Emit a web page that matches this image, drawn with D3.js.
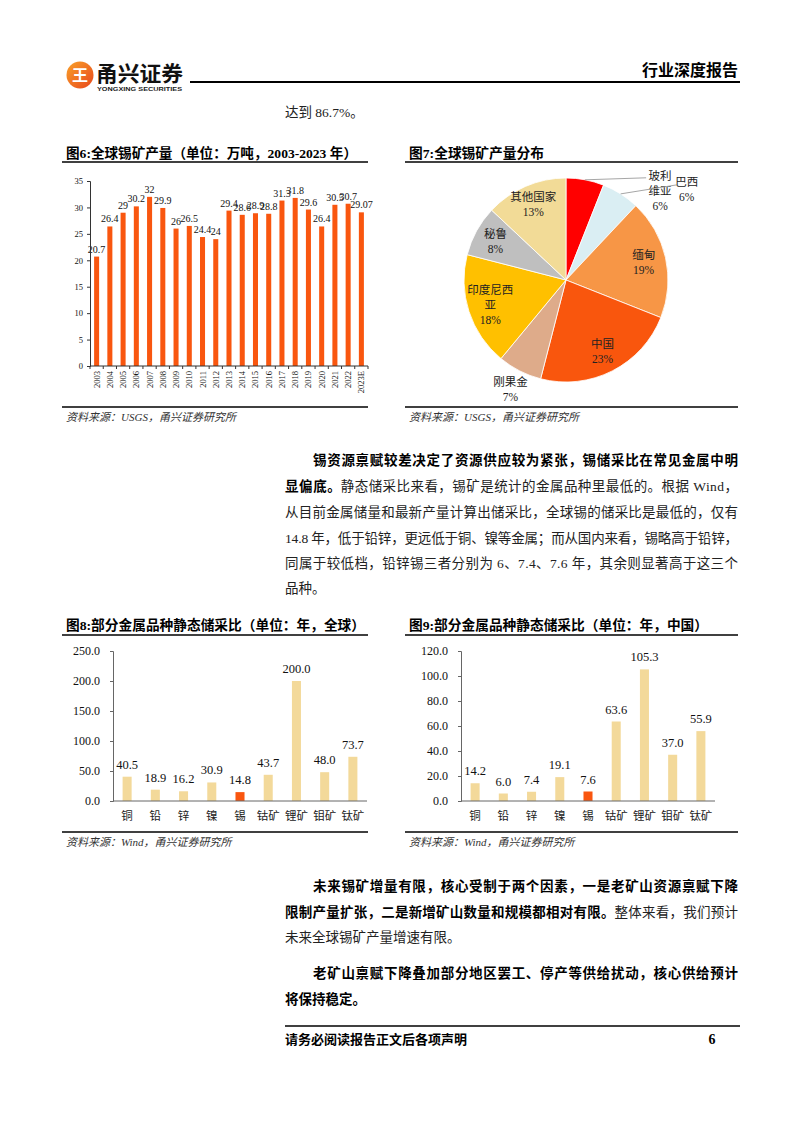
<!DOCTYPE html>
<html><head><meta charset="utf-8">
<script src="https://cdn.jsdelivr.net/npm/d3@7/dist/d3.min.js"></script>
<style>body{margin:0;background:#fff}svg{display:block}</style>
</head><body>
<svg id="page" width="794" height="1123"></svg>
<script>
// ---------------- DATA ----------------
const years = ["2003","2004","2005","2006","2007","2008","2009","2010","2011","2012","2013","2014","2015","2016","2017","2018","2019","2020","2021","2022","2023E"];
const production = [20.7,26.4,29,30.2,32,29.9,26,26.5,24.4,24,29.4,28.6,28.9,28.8,31.3,31.8,29.6,26.4,30.5,30.7,29.07];
const prodTicks = [0,5,10,15,20,25,30,35];

const countries = ["玻利维亚","巴西","缅甸","中国","刚果金","印度尼西亚","秘鲁","其他国家"];
const shares = [6,6,19,23,7,18,8,13];

const metals = ["铜","铅","锌","镍","锡","钴矿","锂矿","钼矿","钛矿"];
const globalRatio = [40.5,18.9,16.2,30.9,14.8,43.7,200.0,48.0,73.7];
const chinaRatio = [14.2,6.0,7.4,19.1,7.6,63.6,105.3,37.0,55.9];
const globalTicks = [0,50,100,150,200,250];
const chinaTicks = [0,20,40,60,80,100,120];

// ---------------- STYLE ----------------
const SERIF = "'Liberation Serif','Noto Sans CJK SC',serif";
const CJK = "'Noto Sans CJK SC',sans-serif";
const BAR_ORANGE = "#F9560F";
const BAR_LIGHT = "#F3D99A";
const pieColors = ["#FF0000","#DAEEF3","#F79646","#F9560D","#DEAB8A","#FFC000","#BFBFBF","#F2DB97"];

const svg = d3.select("#page");

function txt(g, s, x, y, opt = {}) {
  const t = g.append("text").attr("x", x).attr("y", y)
    .style("font-family", opt.family || SERIF)
    .style("font-size", (opt.size || 13) + "px")
    .style("font-weight", opt.bold ? "bold" : "normal")
    .style("font-style", opt.italic ? "italic" : "normal")
    .attr("fill", opt.fill || "#111")
    .attr("text-anchor", opt.anchor || "start")
    .text(s);
  if (opt.len) t.attr("textLength", opt.len).attr("lengthAdjust", "spacingAndGlyphs");
  return t;
}

// justified paragraph line made of segments
function textLine(segs, x0, x1, y, size, justify) {
  const g = svg.append("g");
  const items = segs.map(s => {
    const t = txt(g, s.t, 0, y, {size, bold: s.b, fill: s.b ? "#000" : "#222"});
    return {el: t, w: t.node().getComputedTextLength(), n: [...s.t].length};
  });
  const W = d3.sum(items, d => d.w), N = d3.sum(items, d => d.n);
  const extra = justify ? (x1 - x0 - W) : 0;
  let x = x0;
  items.forEach(it => {
    const len = it.w + extra * it.n / N;
    it.el.attr("x", x);
    if (justify) it.el.attr("textLength", len).attr("lengthAdjust", "spacing");
    x += len;
  });
}

// ---------------- HEADER ----------------
const hdr = svg.append("g");
const grad = svg.append("defs").append("linearGradient").attr("id", "lg").attr("x1", 0).attr("y1", 0).attr("x2", 1).attr("y2", 1);
grad.append("stop").attr("offset", "0%").attr("stop-color", "#F9A12A");
grad.append("stop").attr("offset", "100%").attr("stop-color", "#E8471B");
hdr.append("circle").attr("cx", 80).attr("cy", 75).attr("r", 13.5).attr("fill", "url(#lg)");
txt(hdr, "王", 80, 81, {family: CJK, size: 16, bold: true, fill: "#fff", anchor: "middle"});
txt(hdr, "甬兴证券", 96, 81, {family: CJK, size: 21, bold: true, fill: "#111", len: 87});
txt(hdr, "YONGXING SECURITIES", 97, 91, {family: "'Liberation Sans',sans-serif", size: 6, bold: true, fill: "#222", len: 85});
hdr.append("line").attr("x1", 190).attr("x2", 740).attr("y1", 82).attr("y2", 82).attr("stroke", "#000").attr("stroke-width", 2);
txt(hdr, "行业深度报告", 738, 76, {family: CJK, size: 16, bold: true, fill: "#000", anchor: "end"});

textLine([{t: "达到 86.7%。"}], 285, 738, 117, 13.5, false);

// ---------------- TITLES / SOURCES ----------------
function block(x0, x1, title, titleLen, yTitle, yLine, source, ySrcLine) {
  txt(svg, title, x0 + 4, yTitle, {size: 13.5, bold: true, fill: "#000", len: titleLen});
  svg.append("line").attr("x1", x0).attr("x2", x1).attr("y1", yLine).attr("y2", yLine).attr("stroke", "#000").attr("stroke-width", 1.3);
  svg.append("line").attr("x1", x0).attr("x2", x1).attr("y1", ySrcLine).attr("y2", ySrcLine).attr("stroke", "#000").attr("stroke-width", 1.3);
  txt(svg, source, x0 + 4, ySrcLine + 14, {size: 11, italic: true, fill: "#333"});
}
block(62, 368, "图6:全球锡矿产量（单位：万吨，2003-2023 年）", 291, 158, 162, "资料来源：USGS，甬兴证券研究所", 407);
block(405, 738, "图7:全球锡矿产量分布", 135, 158, 162, "资料来源：USGS，甬兴证券研究所", 407);
block(62, 368, "图8:部分金属品种静态储采比（单位：年，全球）", 299, 630, 635, "资料来源：Wind，甬兴证券研究所", 832);
block(405, 738, "图9:部分金属品种静态储采比（单位：年，中国）", 299, 630, 635, "资料来源：Wind，甬兴证券研究所", 832);

// ---------------- FIG 6 ----------------
(function () {
  const g = svg.append("g");
  const x = d3.scaleBand().domain(years).range([90, 368]).paddingInner(0.62).paddingOuter(0.31);
  const y = d3.scaleLinear().domain([0, 35]).range([366, 181]);
  g.selectAll("rect").data(production).join("rect")
    .attr("x", (d, i) => x(years[i])).attr("width", x.bandwidth())
    .attr("y", d => y(d)).attr("height", d => y(0) - y(d)).attr("fill", BAR_ORANGE);
  g.selectAll(".lbl").data(production).join("text")
    .attr("x", (d, i) => x(years[i]) + x.bandwidth() / 2).attr("y", d => y(d) - 4)
    .attr("text-anchor", "middle").style("font-family", SERIF).style("font-size", "10px").attr("fill", "#111")
    .text(d => String(d));
  const ya = g.append("g").attr("transform", "translate(90,0)")
    .call(d3.axisLeft(y).tickValues(prodTicks).tickSize(3).tickPadding(4));
  ya.select(".domain").attr("stroke", "#333");
  ya.selectAll(".tick line").attr("stroke", "#333");
  ya.selectAll("text").style("font-family", SERIF).style("font-size", "8.5px").attr("fill", "#111");
  g.append("line").attr("x1", 90).attr("x2", 368).attr("y1", y(0)).attr("y2", y(0)).attr("stroke", "#333");
  d3.range(years.length + 1).forEach(i => {
    const xx = 90 + i * x.step();
    g.append("line").attr("x1", xx).attr("x2", xx).attr("y1", y(0)).attr("y2", y(0) + 3).attr("stroke", "#333");
  });
  years.forEach(yr => {
    const cx = x(yr) + x.bandwidth() / 2;
    g.append("text").attr("transform", `translate(${cx + 3},371) rotate(-90)`)
      .attr("text-anchor", "end").style("font-family", SERIF).style("font-size", "8.5px").attr("fill", "#111").text(yr);
  });
})();

// ---------------- FIG 7 ----------------
(function () {
  const cx = 566, cy = 280, R = 102;
  const g = svg.append("g").attr("transform", `translate(${cx},${cy})`);
  const arcs = d3.pie().sort(null).value(d => d)(shares);
  const arc = d3.arc().innerRadius(0).outerRadius(R);
  g.selectAll("path").data(arcs).join("path").attr("d", arc)
    .attr("fill", (d, i) => pieColors[i]).attr("stroke", "#fff").attr("stroke-width", 0.8);
  const polar = (a, r) => [Math.sin(a) * r, -Math.cos(a) * r];
  const fs = 11.5;
  const labelLines = [
    ["玻利", "维亚", "6%"], ["巴西", "6%"], ["缅甸", "19%"], ["中国", "23%"],
    ["刚果金", "7%"], ["印度尼西", "亚", "18%"], ["秘鲁", "8%"], ["其他国家", "13%"]
  ];
  const rf = [null, null, 0.78, 0.79, 1.2, 0.78, 0.79, 0.81];
  arcs.forEach((d, i) => {
    const mid = (d.startAngle + d.endAngle) / 2;
    let px, py;
    if (rf[i] !== null) {
      [px, py] = polar(mid, R * rf[i]);
    } else {
      const [ax, ay] = polar(mid, R);
      const lineEnd = i === 0 ? [ax + 61, ay - 2] : [ax + 56, ay - 9];
      g.append("line").attr("x1", ax).attr("y1", ay).attr("x2", lineEnd[0]).attr("y2", lineEnd[1])
        .attr("stroke", "#A6A6A6").attr("stroke-width", 1);
      if (i === 0) { px = ax + 75; py = ay + 11; }
      else { px = ax + 66; py = ay - 4; }
    }
    const lines = labelLines[i];
    const lh = 15;
    const y0 = py - (lines.length - 1) * lh / 2;
    lines.forEach((s, k) => {
      txt(g, s, px, y0 + k * lh + 4, {size: fs, fill: "#222", anchor: "middle"});
    });
  });
})();

// ---------------- PARAGRAPH 1 ----------------
const P = 13.5;
textLine([{t: "锡资源禀赋较差决定了资源供应较为紧张，锡储采比在常见金属中明", b: true}], 313, 738, 465, P, true);
textLine([{t: "显偏底。", b: true}, {t: "静态储采比来看，锡矿是统计的金属品种里最低的。根据 Wind，"}], 285, 738, 491, P, true);
textLine([{t: "从目前金属储量和最新产量计算出储采比，全球锡的储采比是最低的，仅有"}], 285, 738, 517, P, true);
textLine([{t: "14.8 年，低于铅锌，更远低于铜、镍等金属；而从国内来看，锡略高于铅锌，"}], 285, 738, 543, P, true);
textLine([{t: "同属于较低档，铅锌锡三者分别为 6、7.4、7.6 年，其余则显著高于这三个"}], 285, 738, 568, P, true);
textLine([{t: "品种。"}], 285, 738, 593, P, false);

// ---------------- FIG 8 / 9 ----------------
function ratioChart(vals, ticks, x0, x1, maxV) {
  const g = svg.append("g");
  const x = d3.scaleBand().domain(metals).range([x0, x1]).paddingInner(0.68).paddingOuter(0.34);
  const y = d3.scaleLinear().domain([0, maxV]).range([801, 651]);
  g.selectAll("rect").data(vals).join("rect")
    .attr("x", (d, i) => x(metals[i])).attr("width", x.bandwidth())
    .attr("y", d => y(d)).attr("height", d => y(0) - y(d))
    .attr("fill", (d, i) => metals[i] === "锡" ? BAR_ORANGE : BAR_LIGHT);
  g.selectAll(".lbl").data(vals).join("text")
    .attr("x", (d, i) => x(metals[i]) + x.bandwidth() / 2).attr("y", d => y(d) - 8)
    .attr("text-anchor", "middle").style("font-family", SERIF).style("font-size", "12.5px").attr("fill", "#111")
    .text(d => d.toFixed(1));
  const ya = g.append("g").attr("transform", `translate(${x0},0)`)
    .call(d3.axisLeft(y).tickValues(ticks).tickSize(3).tickPadding(10).tickFormat(d3.format(".1f")));
  ya.select(".domain").attr("stroke", "#666");
  ya.selectAll(".tick line").attr("stroke", "#666");
  ya.selectAll("text").style("font-family", SERIF).style("font-size", "12px").attr("fill", "#111");
  g.append("line").attr("x1", x0).attr("x2", x1).attr("y1", y(0)).attr("y2", y(0)).attr("stroke", "#666");
  metals.forEach(m => {
    txt(g, m, x(m) + x.bandwidth() / 2, 820, {family: CJK, size: 11.5, fill: "#222", anchor: "middle"});
  });
}
ratioChart(globalRatio, globalTicks, 113, 367, 250);
ratioChart(chinaRatio, chinaTicks, 461, 715, 120);

// ---------------- PARAGRAPH 2/3 ----------------
textLine([{t: "未来锡矿增量有限，核心受制于两个因素，一是老矿山资源禀赋下降", b: true}], 313, 738, 891, P, true);
textLine([{t: "限制产量扩张，二是新增矿山数量和规模都相对有限。", b: true}, {t: "整体来看，我们预计"}], 285, 738, 917, P, true);
textLine([{t: "未来全球锡矿产量增速有限。"}], 285, 738, 942, P, false);
textLine([{t: "老矿山禀赋下降叠加部分地区罢工、停产等供给扰动，核心供给预计", b: true}], 313, 738, 978, P, true);
textLine([{t: "将保持稳定。", b: true}], 285, 738, 1004, P, false);

// ---------------- FOOTER ----------------
svg.append("line").attr("x1", 285).attr("x2", 740).attr("y1", 1026).attr("y2", 1026).attr("stroke", "#000").attr("stroke-width", 1.3);
txt(svg, "请务必阅读报告正文后各项声明", 285, 1044, {size: 13, bold: true, fill: "#000"});
txt(svg, "6", 712, 1044, {size: 14, bold: true, fill: "#000", anchor: "middle"});
</script>
</body></html>
